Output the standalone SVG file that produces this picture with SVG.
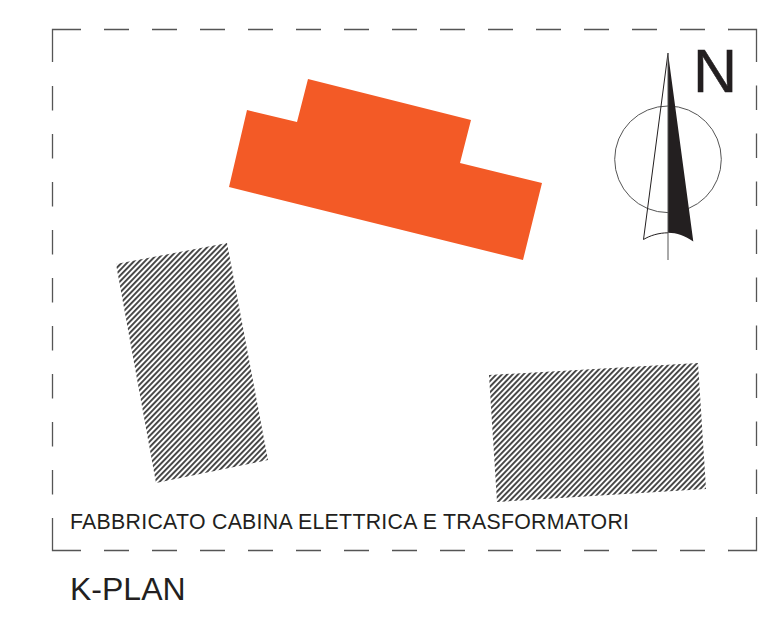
<svg xmlns="http://www.w3.org/2000/svg" width="764" height="629" viewBox="0 0 764 629">
<style>
.f{fill:none;stroke:#555;stroke-width:1.3}
.t{font-family:"Liberation Sans",Arial,sans-serif;fill:#231f20}
</style>
<defs>
<pattern id="h" width="3.9" height="3.9" patternUnits="userSpaceOnUse" patternTransform="rotate(-46)">
<rect width="3.9" height="3.9" fill="#fff"/><rect width="3.9" height="1.9" fill="#444"/>
</pattern>
</defs>
<rect width="764" height="629" fill="#fff"/>
<g id="frame">
<path class="f" d="M81 29.500H52.500V62"/>
<path class="f" stroke-dasharray="25 23" d="M104 29.500H729"/>
<path class="f" d="M728.500 29.500H756.500V62"/>
<path class="f" stroke-dasharray="24.500 23.500" d="M52.500 86V495"/>
<path class="f" d="M52.500 518V550.500H81"/>
<path class="f" stroke-dasharray="25 23" d="M104 550.500H729"/>
<path class="f" d="M728.500 550.500H756.500V517"/>
<path class="f" stroke-dasharray="24.500 23.500" d="M756.500 85.500V495"/>
</g>
<g id="building"><polygon fill="#f35a26" points="247,110 297,122 308,79 471,120 460,163 542,183 523,260 229,187"/></g>
<g id="hatch-left"><polygon fill="url(#h)" points="116,264 227,243 268,460 156,483"/></g>
<g id="hatch-right"><polygon fill="url(#h)" points="489,375 698,363 706,489 497,502"/></g>
<g id="north">
<circle cx="668" cy="159.300" r="53.300" fill="none" stroke="#555" stroke-width="1"/>
<path d="M668 53L643.500 239.500C650 235.500 659 232.800 668 232.800" fill="none" stroke="#231f20" stroke-width="1"/>
<path d="M668 53L693.300 241.500C685 236 677 232.800 668 232.800Z" fill="#231f20"/>
<path d="M668 53V260" stroke="#555" stroke-width="1"/>
<text class="t" x="693" y="91.500" font-size="61" stroke="#231f20" stroke-width=".5">N</text>
</g>
<g id="labels">
<text class="t" x="70" y="529" font-size="21.300" textLength="559" lengthAdjust="spacing">FABBRICATO CABINA ELETTRICA E TRASFORMATORI</text>
<text class="t" x="70" y="600" font-size="32">K-PLAN</text>
</g>
</svg>
